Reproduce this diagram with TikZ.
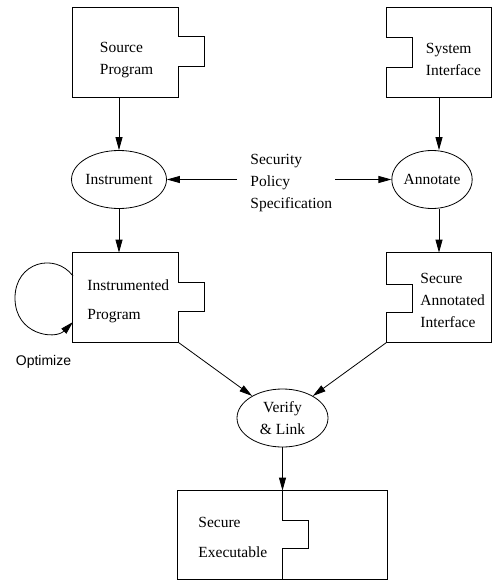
\documentclass[tikz,border=0pt]{standalone}
\usepackage{fontspec}
\setmainfont{Liberation Serif}
\newfontfamily\optfont{Liberation Sans}
\usetikzlibrary{arrows.meta,shapes.geometric}

\begin{document}
\begin{tikzpicture}[
    x=1pt, y=-1pt,
    line width=0.8pt,
    font=\fontsize{15.5}{22}\selectfont,
    arr/.style={-{Triangle[length=13pt,width=7pt]}},
    module/.style={inner sep=0pt, minimum width=105pt, minimum height=89pt},
    oval/.style={draw, ellipse, inner sep=0pt, minimum height=58pt},
    lbl/.style={anchor=west, align=left, inner sep=0pt}
]
\useasboundingbox (0,0) rectangle (492,583);

% =====================
% MODULES
% =====================
\node[module] at (125.5,52.5) (src) {};
\node[module, minimum width=104pt] at (439,52.5) (sys) {};
\node[module] at (125.5,297.5) (prog) {};
\node[module, minimum width=104pt] at (439,297.5) (sai) {};
\node[module, minimum width=209pt, minimum height=88pt] at (282.5,535) (exec) {};

% tab on the right
\draw (src.north west) -- (src.north east) -- ++(0,29) -- ++(26,0) -- ++(0,30)
      -- ++(-26,0) -- (src.south east) -- (src.south west) -- cycle;
\draw (prog.north west) -- (prog.north east) -- ++(0,30) -- ++(26,0) -- ++(0,29)
      -- ++(-26,0) -- (prog.south east) -- (prog.south west) -- cycle;

% notch on the left
\draw (sys.north west) -- (sys.north east) -- (sys.south east) -- (sys.south west)
      -- ++(0,-30) -- ++(26,0) -- ++(0,-30) -- ++(-26,0) -- cycle;
\draw (sai.north west) -- (sai.north east) -- (sai.south east) -- (sai.south west)
      -- ++(0,-30) -- ++(26,0) -- ++(0,-28) -- ++(-26,0) -- cycle;

% executable
\draw (exec.north west) rectangle (exec.south east);
\draw (exec.north) -- ++(0,30) -- ++(26,0) -- ++(0,28) -- ++(-26,0) -- (exec.south);

\node[lbl] at (99.5,60.5) (srcT) {Source\\Program};
\node[lbl] at (425.5,59) (sysT) {System\\Interface};
\node[lbl] at (87,301) (progT) {Instrumented\\[7pt]Program};
\node[lbl] at (420,300) (saiT) {Secure\\Annotated\\Interface};
\node[lbl] at (198,537) (execT) {Secure\\[8pt]Executable};
\node[lbl] at (250,183.5) (policy) {Security\\Policy\\Specification};

% =====================
% STEPS
% =====================
\node[oval, minimum width=92pt] at (119,179.5) (instr) {Instrument};
\node[oval, minimum width=80pt] at (432,179.5) (annot) {Annotate};
\node[oval, minimum width=91pt, align=center] at (282.5,418) (verify) {Verify\\\& Link};

\coordinate (polL) at (237,179.5);
\coordinate (polR) at (335,179.5);
\coordinate (loopA) at (73,276);
\coordinate (loopB) at (73,322);

% =====================
% ARROWS
% =====================
\draw[arr] (instr.north |- src.south) -- (instr.north);
\draw[arr] (instr.south) -- (instr.south |- prog.north);
\draw[arr] (polL) -- (instr.east);
\draw[arr] (polR) -- (annot.west);
\draw[arr] (sys.south) -- (sys.south |- annot.north);
\draw[arr] (sys.south |- annot.south) -- (sai.north);
\draw[arr] (prog.south east) -- (verify);
\draw[arr] (sai.south west) -- (verify);
\draw[arr] (verify.south) -- (exec.north);

% loop on the instrumented program
\draw[arr] (loopA) .. controls (55,252) and (15,262) .. (15,298)
      .. controls (15,335) and (55,340) .. (loopB);
\node[inner sep=0pt, font=\optfont\fontsize{14}{16}\selectfont] at (43.5,362) (opt) {Optimize};

\end{tikzpicture}
\end{document}
